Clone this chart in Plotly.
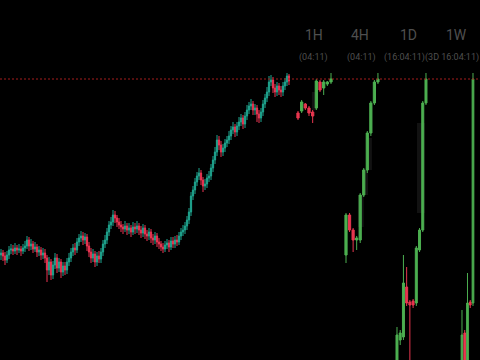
import plotly.graph_objects as go

# ---------------- data ----------------
current_price = 5000

# main (lower timeframe) chart
main_x = list(range(145))
main_open = [4824, 4826, 4823, 4819, 4824, 4829, 4830, 4828, 4831, 4829, 4830, 4828, 4831,
             4833, 4839, 4833, 4835, 4830, 4832, 4827, 4829, 4824, 4826,
             4821, 4809, 4817, 4804, 4814, 4821, 4811, 4817,
             4807, 4813, 4809, 4817, 4821,
             4827, 4831, 4829, 4837, 4841,
             4843, 4839, 4842, 4833, 4827,
             4821, 4825, 4817, 4823, 4820,
             4827, 4835, 4839, 4847, 4854, 4857,
             4864, 4861, 4857, 4854,
             4852, 4850, 4853, 4849, 4851, 4847, 4852,
             4850, 4853, 4849, 4846, 4851, 4845, 4843, 4847,
             4841, 4839, 4843, 4837, 4835, 4832,
             4830, 4834, 4836, 4832, 4838, 4835, 4839,
             4837, 4843, 4847, 4849, 4853,
             4859, 4867, 4883, 4889, 4897,
             4903, 4906, 4899, 4893, 4895,
             4901, 4903, 4911, 4919, 4927,
             4939, 4934, 4927, 4931, 4936,
             4939, 4943, 4949, 4952, 4947,
             4953, 4957, 4961, 4955, 4963,
             4969, 4973, 4975, 4969, 4971,
             4965, 4961, 4967, 4975, 4981,
             4987, 4997, 4999, 4991, 4987,
             4993, 4989, 4987, 4993, 4997,
             5003]
main_high = [4830, 4829, 4827, 4828, 4833, 4835, 4834, 4836, 4834, 4835, 4833, 4835, 4838,
             4843, 4842, 4840, 4838, 4837, 4835, 4833, 4832, 4831, 4830,
             4824, 4822, 4820, 4818, 4826, 4825, 4821, 4820,
             4817, 4817, 4821, 4826, 4831,
             4835, 4836, 4841, 4845, 4848,
             4847, 4846, 4845, 4837, 4831,
             4830, 4828, 4827, 4828, 4831,
             4839, 4844, 4851, 4858, 4862, 4869,
             4868, 4864, 4861, 4858,
             4855, 4858, 4856, 4856, 4854, 4857, 4856,
             4858, 4856, 4853, 4855, 4854, 4849, 4851, 4850,
             4845, 4847, 4846, 4841, 4838, 4836,
             4838, 4840, 4839, 4842, 4842, 4843, 4844,
             4847, 4851, 4854, 4857, 4863,
             4871, 4887, 4893, 4901, 4907,
             4911, 4909, 4902, 4900, 4905,
             4908, 4915, 4923, 4932, 4944,
             4943, 4938, 4935, 4940, 4943,
             4948, 4953, 4957, 4955, 4957,
             4962, 4965, 4964, 4967, 4974,
             4977, 4980, 4978, 4975, 4974,
             4969, 4971, 4979, 4985, 4992,
             5003, 5004, 5002, 4995, 4997,
             4996, 4993, 4997, 5001, 5006,
             5005]
main_low = [4819, 4818, 4814, 4816, 4820, 4825, 4824, 4825, 4824, 4826, 4823, 4825, 4827,
            4830, 4828, 4829, 4826, 4827, 4822, 4823, 4819, 4820, 4816,
            4797, 4804, 4799, 4800, 4810, 4806, 4807, 4801,
            4803, 4804, 4805, 4813, 4817,
            4823, 4824, 4826, 4833, 4837,
            4834, 4835, 4828, 4822, 4816,
            4817, 4812, 4813, 4816, 4816,
            4823, 4831, 4835, 4843, 4850, 4853,
            4856, 4852, 4850, 4847,
            4845, 4847, 4844, 4845, 4842, 4844, 4845,
            4846, 4844, 4841, 4842, 4840, 4838, 4839, 4836,
            4834, 4835, 4832, 4830, 4828, 4826,
            4827, 4830, 4827, 4829, 4831, 4831, 4833,
            4834, 4839, 4843, 4845, 4849,
            4855, 4863, 4879, 4885, 4893,
            4899, 4894, 4887, 4889, 4891,
            4897, 4899, 4907, 4915, 4923,
            4929, 4922, 4923, 4927, 4932,
            4935, 4939, 4945, 4942, 4943,
            4949, 4953, 4950, 4951, 4959,
            4965, 4969, 4964, 4964, 4957,
            4956, 4957, 4963, 4971, 4977,
            4983, 4993, 4986, 4982, 4983,
            4984, 4982, 4983, 4989, 4993,
            4994]
main_close = [4826, 4823, 4819, 4824, 4829, 4830, 4828, 4831, 4829, 4830, 4828, 4831, 4833,
              4839, 4833, 4835, 4830, 4832, 4827, 4829, 4824, 4826, 4821,
              4809, 4817, 4804, 4814, 4821, 4811, 4817, 4807,
              4813, 4809, 4817, 4821, 4827,
              4831, 4829, 4837, 4841, 4843,
              4839, 4842, 4833, 4827, 4821,
              4825, 4817, 4823, 4820, 4827,
              4835, 4839, 4847, 4854, 4857, 4864,
              4861, 4857, 4854, 4852,
              4850, 4853, 4849, 4851, 4847, 4852, 4850,
              4853, 4849, 4846, 4851, 4845, 4843, 4847, 4841,
              4839, 4843, 4837, 4835, 4832, 4830,
              4834, 4836, 4832, 4838, 4835, 4839, 4837,
              4843, 4847, 4849, 4853, 4859,
              4867, 4883, 4889, 4897, 4903,
              4906, 4899, 4893, 4895, 4901,
              4903, 4911, 4919, 4927, 4939,
              4934, 4927, 4931, 4936, 4939,
              4943, 4949, 4952, 4947, 4953,
              4957, 4961, 4955, 4963, 4969,
              4973, 4975, 4969, 4971, 4965,
              4961, 4967, 4975, 4981, 4987,
              4997, 4999, 4991, 4987, 4993,
              4989, 4987, 4993, 4997, 5003,
              4998]

# 1H panel
h1_x = [0, 1, 2, 3, 4, 5, 6, 7, 8, 9]
h1_open = [4966, 4968, 4975, 4971, 4967, 4971, 4997, 4991, 4995, 4997]
h1_high = [4968, 4979, 4976, 4973, 4969, 5000, 4999, 4999, 4998, 5006]
h1_low = [4959, 4966, 4969, 4963, 4956, 4969, 4987, 4984, 4993, 4995]
h1_close = [4961, 4977, 4971, 4966, 4963, 4998, 4989, 4997, 4997, 5000]
h1_ghost_x = [4.4]
h1_ghost_low = [4969]
h1_ghost_high = [4987]

# 4H panel
h4_x = [0, 1, 2, 3, 4, 5, 6, 7, 8, 9]
h4_open = [4296, 4456, 4396, 4356, 4356, 4536, 4636, 4784, 4904, 4988]
h4_high = [4464, 4464, 4404, 4372, 4544, 4644, 4792, 4912, 4996, 5024]
h4_low = [4264, 4388, 4308, 4316, 4344, 4528, 4624, 4772, 4896, 4980]
h4_close = [4456, 4396, 4356, 4364, 4536, 4636, 4784, 4904, 4988, 5000]
h4_ghost_x = [4.2, 5.4, 6.5]
h4_ghost_low = [4408, 4536, 4636]
h4_ghost_high = [4536, 4636, 4764]

# 1D panel
d1_x = [0, 1, 2, 3, 4, 5, 6, 7, 8, 9]
d1_open = [2040, 2390, 2420, 2920, 2770, 2780, 2760, 3290, 3490, 4760]
d1_high = [2520, 2490, 3240, 3120, 2790, 2800, 3330, 3510, 4780, 5060]
d1_low = [1990, 2340, 2390, 2730, 2140, 2710, 2730, 3270, 3470, 4740]
d1_close = [2440, 2460, 2960, 2760, 2740, 2740, 3310, 3490, 4760, 5000]
d1_ghost_x = [7.4]
d1_ghost_low = [3660]
d1_ghost_high = [4560]

# 1W panel
w1_x = [0, 1, 2, 3, 4]
w1_open = [1388, 1952, 1508, 2324, 2312]
w1_high = [2228, 1988, 2672, 2348, 5072]
w1_low = [1328, 1328, 1448, 2252, 2276]
w1_close = [1928, 1508, 2312, 2288, 5000]

panel_titles = ["1H", "4H", "1D", "1W"]
panel_timers = ["(04:11)", "(04:11)", "(16:04:11)", "(3D 16:04:11)"]

# ---------------- styling ----------------
W, H = 480, 360
MAIN_UP, MAIN_DN = "#1fa58f", "#ec3552"
PAN_UP, PAN_DN = "#4caf50", "#e8364f"
GHOST = "rgba(255,255,255,0.07)"
TXT = "#4f4f4f"

fig = go.Figure()


def ghost(xs, lows, highs, width, xa, ya):
    fig.add_trace(go.Bar(
        x=xs, y=[h - l for h, l in zip(highs, lows)], base=lows, width=width,
        marker=dict(color=GHOST, line=dict(width=0)),
        xaxis=xa, yaxis=ya, hoverinfo="skip", showlegend=False))


def candles(xs, o, h, l, c, up, dn, lw, xa, ya):
    fig.add_trace(go.Candlestick(
        x=xs, open=o, high=h, low=l, close=c,
        increasing=dict(line=dict(color=up, width=lw), fillcolor=up),
        decreasing=dict(line=dict(color=dn, width=lw), fillcolor=dn),
        whiskerwidth=0, xaxis=xa, yaxis=ya, showlegend=False))


ghost(h1_ghost_x, h1_ghost_low, h1_ghost_high, 1.2, "x2", "y2")
ghost(h4_ghost_x, h4_ghost_low, h4_ghost_high, 1.6, "x3", "y3")
ghost(d1_ghost_x, d1_ghost_low, d1_ghost_high, 2.4, "x4", "y4")

candles(main_x, main_open, main_high, main_low, main_close, MAIN_UP, MAIN_DN, 1, "x", "y")
candles(h1_x, h1_open, h1_high, h1_low, h1_close, PAN_UP, PAN_DN, 1, "x2", "y2")
candles(h4_x, h4_open, h4_high, h4_low, h4_close, PAN_UP, PAN_DN, 1, "x3", "y3")
candles(d1_x, d1_open, d1_high, d1_low, d1_close, PAN_UP, PAN_DN, 1, "x4", "y4")
candles(w1_x, w1_open, w1_high, w1_low, w1_close, PAN_UP, PAN_DN, 1, "x5", "y5")


def xax(dom, rng, anchor):
    return dict(domain=dom, range=rng, anchor=anchor, visible=False, showgrid=False,
                zeroline=False, fixedrange=True, rangeslider=dict(visible=False))


def yax(rng, anchor):
    return dict(domain=[0, 1], range=rng, anchor=anchor, visible=False, showgrid=False,
                zeroline=False, fixedrange=True)


fig.update_layout(
    width=W, height=H, margin=dict(l=0, r=0, t=0, b=0, pad=0),
    paper_bgcolor="#000000", plot_bgcolor="#000000",
    showlegend=False, hovermode=False, barmode="overlay", boxgap=0.12,
    xaxis=xax([0, 290 / W], [-0.5, 144.5], "y"),
    yaxis=yax([4719, 5079], "x"),
    xaxis2=xax([294 / W, 336 / W], [-1.09, 10.36], "y2"),
    yaxis2=yax([4719, 5079], "x2"),
    xaxis3=xax([342 / W, 382 / W], [-1.13, 10.14], "y3"),
    yaxis3=yax([3876, 5316], "x3"),
    xaxis4=xax([392 / W, 432 / W], [-1.55, 10.87], "y4"),
    yaxis4=yax([2190, 5790], "x4"),
    xaxis5=xax([456 / W, 1.0], [-2.18, 6.55], "y5"),
    yaxis5=yax([1628, 5948], "x5"),
)

fig.add_shape(type="line", xref="paper", yref="y", x0=0, x1=1,
              y0=current_price, y1=current_price,
              line=dict(color="#a51c1c", width=1, dash="2px,2px"), layer="above")

title_px = [314, 360, 408, 456]
timer_px = [313, 361, 404, 452]
for t, px in zip(panel_titles, title_px):
    fig.add_annotation(text=t, x=px / W, y=1 - 35 / H, xref="paper", yref="paper",
                       showarrow=False, xanchor="center", yanchor="middle",
                       font=dict(family="Roboto", size=14, color=TXT))
for t, px in zip(panel_timers, timer_px):
    fig.add_annotation(text=t, x=px / W, y=1 - 57 / H, xref="paper", yref="paper",
                       showarrow=False, xanchor="center", yanchor="middle",
                       font=dict(family="Roboto", size=9, color=TXT))

fig.write_html("out.html", config=dict(displayModeBar=False))
